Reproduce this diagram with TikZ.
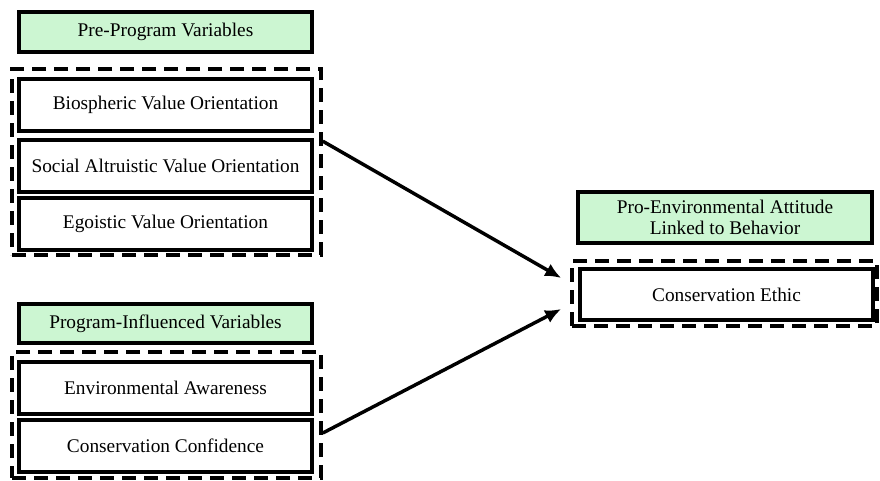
\documentclass[tikz,border=0pt]{standalone}
\usepackage{fontspec}
\setmainfont{Liberation Serif}
\usetikzlibrary{arrows.meta,calc}
\definecolor{headfill}{RGB}{204,246,210}
\tikzset{
  px/.style={x=0.75pt,y=-0.75pt},
  sz/.style 2 args={minimum width=#1*0.75pt, minimum height=#2*0.75pt},
  box/.style={draw=black, line width=2.7pt, fill=white, inner sep=0pt,
              align=center, font=\fontsize{14.5}{16}\selectfont},
  headbox/.style={box, fill=headfill},
  group/.style={draw=black, line width=2.7pt, dash pattern=on 10.5pt off 6pt, inner sep=0pt},
  link/.style={draw=black, line width=2.6pt, -{Latex[length=12pt,width=10.5pt]}}
}
\begin{document}
\begin{tikzpicture}[px]
  \useasboundingbox (0,0) rectangle (880,480);

  % pre-program block
  \node[headbox, sz={293}{40}] (pre) at (165.5,32) {Pre-Program Variables};
  \node[group, sz={309}{186}] (g1) at (166.5,162) {};
  \node[box, sz={293}{52}] (bio) at (165.5,105) {Biospheric Value Orientation};
  \node[box, sz={293}{52}] (soc) at (165.5,166) {Social Altruistic Value Orientation};
  \node[box, sz={293}{52}] (ego) at (165.5,224) {Egoistic Value Orientation};

  % program-influenced block
  \node[headbox, sz={293}{39}] (prog) at (165.5,323.5) {Program-Influenced Variables};
  \node[group, sz={309}{126}] (g2) at (166.5,415) {};
  \node[box, sz={293}{52}] (env) at (165.5,388) {Environmental Awareness};
  \node[box, sz={293}{52}] (conf) at (165.5,446) {Conservation Confidence};

  % outcome block
  \node[headbox, sz={294}{51}] (att) at (725,217.5) {Pro-Environmental Attitude\\Linked to Behavior};
  \node[group, sz={305}{65}] (g3) at (724.5,293.5) {};
  \node[box, sz={293}{51}] (eth) at (726.5,294.5) {Conservation Ethic};

  % paths
  \coordinate (t1) at ($(g3.west)+(-9,-15.5)$);
  \coordinate (t2) at ($(g3.west)+(-9,15.5)$);
  \draw[link] ($(soc.north -| g1.east)+(0,3)$) -- (t1);
  \draw[link] ($(conf.center -| g2.east)+(0,-13)$) -- (t2);
\end{tikzpicture}
\end{document}
